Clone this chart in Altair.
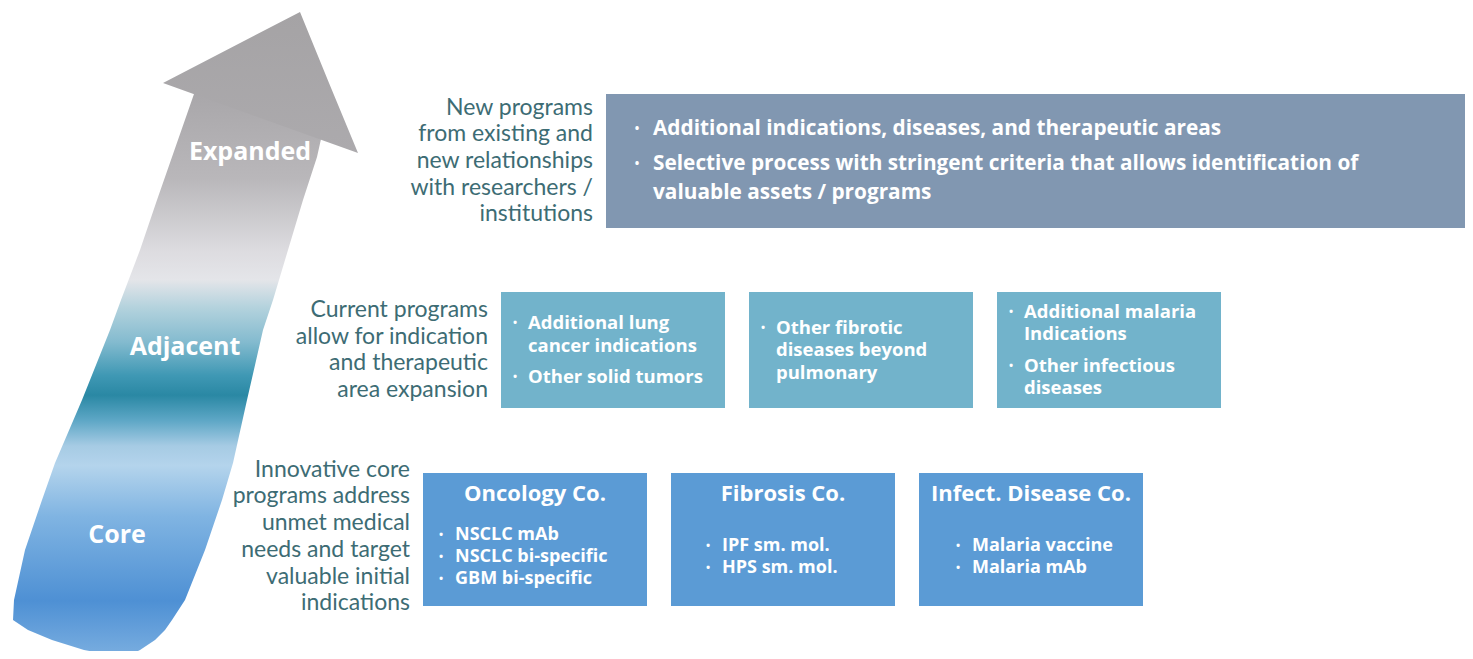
import altair as alt
import pandas as pd

# ---------------- content ----------------
tiers = ["Expanded", "Adjacent", "Core"]
tier_descriptions = [
    ["New programs", "from existing and", "new relationships", "with researchers /", "institutions"],
    ["Current programs", "allow for indication", "and therapeutic", "area expansion"],
    ["Innovative core", "programs address", "unmet medical", "needs and target", "valuable initial", "indications"],
]
expanded_items = [
    ["Additional indications, diseases, and therapeutic areas"],
    ["Selective process with stringent criteria that allows identification of", "valuable assets / programs"],
]
adjacent_items = [
    [["Additional lung", "cancer indications"], ["Other solid tumors"]],
    [["Other fibrotic", "diseases beyond", "pulmonary"]],
    [["Additional malaria", "Indications"], ["Other infectious", "diseases"]],
]
core_titles = ["Oncology Co.", "Fibrosis Co.", "Infect. Disease Co."]
core_items = [
    ["NSCLC mAb", "NSCLC bi-specific", "GBM bi-specific"],
    ["IPF sm. mol.", "HPS sm. mol."],
    ["Malaria vaccine", "Malaria mAb"],
]

# arrow outline (pixel space)
arrow_y = [94, 157, 200, 250, 300, 330, 400, 463, 500, 550, 600, 620, 630, 640, 650, 657]
arrow_left = [194, 172, 157, 140, 121, 110, 82, 55, 42, 25, 14, 13, 28, 52, 84, 122]
arrow_right = [331, 317, 303, 288, 273, 263, 247, 233, 222, 205, 185, 172, 165, 155, 140, 126]
head_y = [12, 83, 153]
head_left = [300, 163, 358]
head_right = [300, 329, 358]
tier_label_pos = [(250, 152), (185, 347), (117, 535)]

# ---------------- layout / style ----------------
LABEL_FONT = "Lato"
BOLD_FONT = "Open Sans"
LABEL_COLOR = "#3d6c74"
TOP_BOX = dict(x0=606, x1=1467, y0=94, y1=228, fill="#8197b1")
MID_ROW = dict(x0=501, w=224, pitch=248, y0=292, y1=408, fill="#72b3cb")
BOT_ROW = dict(x0=423, w=224, pitch=248, y0=473, y1=606, fill="#5b9bd5")
LINE_GAP = 26.7

rects, labels, bullets, items_top, items_mid, items_bot, titles = [], [], [], [], [], [], []

rects.append(dict(x=TOP_BOX["x0"], x2=TOP_BOX["x1"], y=TOP_BOX["y0"], y2=TOP_BOX["y1"], fill=TOP_BOX["fill"]))
for i in range(3):
    x0 = MID_ROW["x0"] + i * MID_ROW["pitch"]
    rects.append(dict(x=x0, x2=x0 + MID_ROW["w"], y=MID_ROW["y0"], y2=MID_ROW["y1"], fill=MID_ROW["fill"]))
for i in range(3):
    x0 = BOT_ROW["x0"] + i * BOT_ROW["pitch"]
    rects.append(dict(x=x0, x2=x0 + BOT_ROW["w"], y=BOT_ROW["y0"], y2=BOT_ROW["y1"], fill=BOT_ROW["fill"]))

row_geo = [
    (TOP_BOX["x0"], (TOP_BOX["y0"] + TOP_BOX["y1"]) / 2),
    (MID_ROW["x0"], (MID_ROW["y0"] + MID_ROW["y1"]) / 2),
    (BOT_ROW["x0"], (BOT_ROW["y0"] + BOT_ROW["y1"]) / 2 - 3),
]
for (bx, cy), lines in zip(row_geo, tier_descriptions):
    n = len(lines)
    for k, t in enumerate(lines):
        labels.append(dict(x=bx - 13, y=cy + (k - (n - 1) / 2) * LINE_GAP, text=t))


def stack(groups, within, between, center):
    ys, firsts = [], []
    y = 0
    for gi, g in enumerate(groups):
        if gi > 0:
            y += between
        for li, _ in enumerate(g):
            if li > 0:
                y += within
            ys.append(y)
            firsts.append(li == 0)
    off = center - (ys[0] + ys[-1]) / 2
    return [v + off for v in ys], firsts


ys, firsts = stack(expanded_items, 29, 35, (TOP_BOX["y0"] + TOP_BOX["y1"]) / 2)
flat = [t for g in expanded_items for t in g]
for y, f, t in zip(ys, firsts, flat):
    items_top.append(dict(x=TOP_BOX["x0"] + 47, y=y, text=t))
    if f:
        bullets.append(dict(x=TOP_BOX["x0"] + 31, y=y, text="•", size=12))

for i, groups in enumerate(adjacent_items):
    x0 = MID_ROW["x0"] + i * MID_ROW["pitch"]
    ys, firsts = stack(groups, 22.5, 31.5, (MID_ROW["y0"] + MID_ROW["y1"]) / 2)
    flat = [t for g in groups for t in g]
    for y, f, t in zip(ys, firsts, flat):
        items_mid.append(dict(x=x0 + 27, y=y, text=t))
        if f:
            bullets.append(dict(x=x0 + 14, y=y, text="•", size=11))

bullet_inset = [18, 37, 39]
for i, (title, its) in enumerate(zip(core_titles, core_items)):
    x0 = BOT_ROW["x0"] + i * BOT_ROW["pitch"]
    titles.append(dict(x=x0 + BOT_ROW["w"] / 2, y=BOT_ROW["y0"] + 21, text=title))
    ys, _ = stack([[t] for t in its], 0, 22.2, 557)
    for y, t in zip(ys, its):
        items_bot.append(dict(x=x0 + bullet_inset[i] + 14, y=y, text=t))
        bullets.append(dict(x=x0 + bullet_inset[i], y=y, text="•", size=11))

arrow_df = pd.DataFrame(dict(y=arrow_y, x=arrow_left, x2=arrow_right))
head_df = pd.DataFrame(dict(y=head_y, x=head_left, x2=head_right))
tier_df = pd.DataFrame(dict(x=[p[0] for p in tier_label_pos], y=[p[1] for p in tier_label_pos], text=tiers))

X = alt.X("x:Q", scale=alt.Scale(domain=[8, 1465], nice=False, zero=False), axis=None)
Y = alt.Y("y:Q", scale=alt.Scale(domain=[8, 651], nice=False, zero=False, reverse=True), axis=None)

body_grad = alt.Gradient(
    gradient="linear", x1=0, y1=0, x2=0, y2=1,
    stops=[
        alt.GradientStop(offset=0.0, color="#a9a7aa"),
        alt.GradientStop(offset=0.15, color="#b9b7ba"),
        alt.GradientStop(offset=0.28, color="#dddce0"),
        alt.GradientStop(offset=0.33, color="#e4e5e9"),
        alt.GradientStop(offset=0.38, color="#b3d2dd"),
        alt.GradientStop(offset=0.44, color="#84bbcf"),
        alt.GradientStop(offset=0.50, color="#3f98b4"),
        alt.GradientStop(offset=0.535, color="#2a88a4"),
        alt.GradientStop(offset=0.58, color="#5ea7c6"),
        alt.GradientStop(offset=0.625, color="#a6cbe4"),
        alt.GradientStop(offset=0.66, color="#b4d4ec"),
        alt.GradientStop(offset=0.75, color="#80b4e2"),
        alt.GradientStop(offset=0.90, color="#4e90d4"),
        alt.GradientStop(offset=1.0, color="#7aaee0"),
    ],
)
head_grad = alt.Gradient(
    gradient="linear", x1=0, y1=0, x2=0, y2=1,
    stops=[alt.GradientStop(offset=0, color="#a5a3a5"), alt.GradientStop(offset=1, color="#acaaad")],
)

body = alt.Chart(arrow_df).mark_area(orient="horizontal", color=body_grad).encode(y=Y, x=X, x2="x2:Q")
head = alt.Chart(head_df).mark_area(orient="horizontal", color=head_grad).encode(y=Y, x=X, x2="x2:Q")

boxes = alt.Chart(pd.DataFrame(rects)).mark_rect().encode(
    x=X, x2="x2:Q", y=Y, y2="y2:Q", color=alt.Color("fill:N", scale=None))


def text_layer(rows, font, **kw):
    return alt.Chart(pd.DataFrame(rows)).mark_text(font=font, baseline="middle", **kw).encode(
        x=X, y=Y, text="text:N")


tier_text = alt.Chart(tier_df).mark_text(font=BOLD_FONT, fontSize=25, fontWeight="bold", color="white",
                                         baseline="middle", align="center").encode(x=X, y=Y, text="text:N")
label_text = text_layer(labels, LABEL_FONT, align="right", fontSize=23, color=LABEL_COLOR)
top_text = text_layer(items_top, BOLD_FONT, align="left", fontSize=20.8, fontWeight="bold", color="white")
mid_text = text_layer(items_mid, BOLD_FONT, align="left", fontSize=18.5, fontWeight="bold", color="white")
bot_text = text_layer(items_bot, BOLD_FONT, align="left", fontSize=18, fontWeight="bold", color="white")
title_text = text_layer(titles, BOLD_FONT, align="center", fontSize=22, fontWeight="bold", color="white")
bullet_text = alt.Chart(pd.DataFrame(bullets)).mark_text(font=BOLD_FONT, baseline="middle", align="center",
                                                         color="white", fontWeight="bold").encode(
    x=X, y=Y, text="text:N", size=alt.Size("size:Q", scale=None, legend=None))

chart = alt.layer(body, head, tier_text, boxes, label_text, top_text, mid_text, bot_text, title_text,
                  bullet_text).properties(
    width=1457, height=643, padding=0, autosize=alt.AutoSizeParams(type="none"),
    background="white").configure_view(stroke=None)

chart.save("out.html", embed_options={"renderer": "svg", "actions": False})
